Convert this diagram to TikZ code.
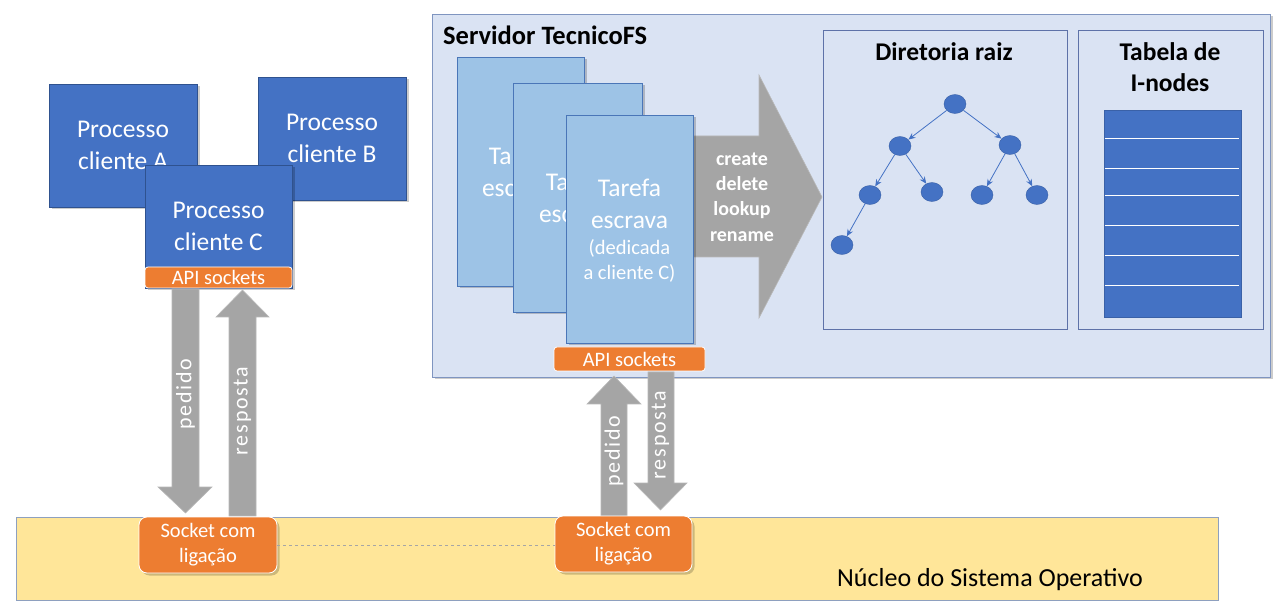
\documentclass[tikz,border=0pt]{standalone}
\usepackage{fontspec}
\setmainfont{Carlito}
\newfontfamily\spacedfont[LetterSpace=8]{Carlito}
\usetikzlibrary{shadows,shapes.geometric,arrows.meta}
\definecolor{procblue}{HTML}{4472C4}
\definecolor{procborder}{HTML}{2F528F}
\definecolor{tarefafill}{HTML}{9DC3E6}
\definecolor{tarefaborder}{HTML}{4A76B8}
\definecolor{serverfill}{HTML}{DAE3F3}
\definecolor{serverborder}{HTML}{7F95C0}
\definecolor{panelborder}{HTML}{5E72A8}
\definecolor{apiorange}{HTML}{ED7D31}
\definecolor{arrowgray}{HTML}{A5A5A5}
\definecolor{arrowborder}{HTML}{B8B8B8}
\definecolor{nucleofill}{HTML}{FFE699}
\definecolor{nucleoborder}{HTML}{8EA0BF}
\newcommand\fsz[2]{\fontsize{#1}{#2}\selectfont}
\begin{document}
\begin{tikzpicture}[x=1pt,y=-1pt,
  softshadow/.style={drop shadow={shadow xshift=2.5pt,shadow yshift=-2.5pt,opacity=0.2,fill=black}},
  procbox/.style={draw=procborder,fill=procblue,line width=0.8pt,text=white,align=center,
    font=\fsz{25.5}{32},inner sep=0pt,softshadow},
  tarefabox/.style={draw=tarefaborder,fill=tarefafill,line width=0.8pt,softshadow},
  tarefatext/.style={text=white,align=center,font=\fsz{25.5}{32},inner sep=0pt},
  tarefasmall/.style={text=white,align=center,font=\fsz{20.5}{25},inner sep=0pt},
  apibar/.style={draw=white,fill=apiorange,line width=0.8pt,rounded corners=3pt,text=white,
    font=\fsz{20.5}{22},inner sep=0pt},
  socketbox/.style={draw=white,fill=apiorange,line width=0.8pt,rounded corners=8pt,text=white,
    font=\fsz{20.5}{25},align=center,inner sep=0pt,softshadow},
  panel/.style={draw=panelborder,fill=serverfill,line width=0.8pt},
  paneltitle/.style={font=\bfseries\fsz{25.5}{31},align=center,inner sep=0pt},
  bigarrow/.style={fill=arrowgray,draw=arrowborder,line width=0.6pt},
  arrowlabel/.style={text=white,font=\spacedfont\fsz{22}{26},rotate=90,inner sep=0pt},
  treenode/.style={ellipse,fill=procblue,draw=procblue!85!black,line width=0.4pt,
    minimum width=22pt,minimum height=19pt,inner sep=0pt},
  treeedge/.style={draw=procblue,line width=0.8pt,-{Stealth[length=7pt,width=6pt]}}
]
\useasboundingbox (0,0) rectangle (1286,612);
\fill[white] (0,0) rectangle (1286,612);

% ---------- kernel band ----------
\node[draw=nucleoborder,fill=nucleofill,line width=0.8pt,minimum width=1202pt,minimum height=83pt,inner sep=0pt]
  (nucleo) at (617,558.5) {};
\node[font=\fsz{26}{31},inner sep=0pt] (nucleotext) at (990,580) {Núcleo do Sistema Operativo};

% ---------- client processes ----------
\node[procbox,minimum width=148pt,minimum height=123pt] (procA) at (123,145.5) {Processo\\cliente A};
\node[procbox,minimum width=148pt,minimum height=123pt] (procB) at (332,138.5) {Processo\\cliente B};
\node[procbox,minimum width=147pt,minimum height=123pt] (procC) at (218.5,226.5) {Processo\\cliente C};
\node[apibar,minimum width=147pt,minimum height=21pt] (apiC) at (218.5,277.5) {API sockets};

% ---------- server ----------
\node[draw=serverborder,fill=serverfill,line width=0.9pt,minimum width=838pt,minimum height=363pt,
  inner sep=0pt,softshadow] (server) at (851,195.5) {};
\node[font=\bfseries\fsz{26.5}{31},anchor=west,inner sep=0pt] (servertitle) at (443,35) {Servidor TecnicoFS};

% big arrow with operations
\draw[bigarrow] (690,136) -- (759,136) -- (759,75) -- (822,197) -- (759,318) -- (759,257) -- (690,257) -- cycle;
\node[text=white,font=\bfseries\fsz{20}{25.3},align=center,inner sep=0pt] (ops) at (742,197)
  {create\\delete\\lookup\\rename};

% worker threads
\node[tarefabox,minimum width=127pt,minimum height=229pt,inner sep=0pt] (tar1) at (520.5,171.5) {};
\node[tarefatext] (tar1text) at (520.5,171.5) {Tarefa\\escrava};
\node[tarefabox,minimum width=129pt,minimum height=229pt,inner sep=0pt] (tar2) at (577.5,197.5) {};
\node[tarefatext] (tar2text) at (577.5,197.5) {Tarefa\\escrava};
\node[tarefabox,minimum width=127pt,minimum height=228pt,inner sep=0pt] (tar3) at (629.5,229) {};
\node[tarefatext] (tar3a) at (629.5,204) {Tarefa\\escrava};
\node[tarefasmall] (tar3b) at (629.5,260.5) {(dedicada\\a cliente C)};
\node[apibar,minimum width=151pt,minimum height=24pt] (apiS) at (629.5,359) {API sockets};

% root directory panel
\node[panel,minimum width=244pt,minimum height=299pt,inner sep=0pt] (dirpanel) at (945,179.5) {};
\node[paneltitle] (dirtitle) at (944,52) {Diretoria raiz};
\node[treenode] (t0) at (955,104) {};
\node[treenode] (t1) at (900,146) {};
\node[treenode] (t2) at (1010,145) {};
\node[treenode] (t3) at (870,195) {};
\node[treenode] (t4) at (932,192) {};
\node[treenode] (t5) at (982,195) {};
\node[treenode] (t6) at (1037,195) {};
\node[treenode] (t7) at (842,245) {};
\draw[treeedge] (t0) -- (t1);
\draw[treeedge] (t0) -- (t2);
\draw[treeedge] (t1) -- (t3);
\draw[treeedge] (t1) -- (t4);
\draw[treeedge] (t2) -- (t5);
\draw[treeedge] (t2) -- (t6);
\draw[treeedge] (t3) -- (t7);

% i-node table panel
\node[panel,minimum width=185pt,minimum height=299pt,inner sep=0pt] (tabpanel) at (1170.5,179.5) {};
\node[paneltitle] (tabtitle) at (1170,67.5) {Tabela de\\I-nodes};
\node[fill=procblue,draw=procblue!85!black,line width=0.4pt,minimum width=137pt,minimum height=207pt,inner sep=0pt]
  (table) at (1172.5,213.5) {};
\foreach \yy in {139,169,196,226,256,286}
  \draw[white,line width=1pt] (1104.5,\yy) -- (1239,\yy);

% ---------- communication arrows ----------
\draw[bigarrow] (172,289) -- (199,289) -- (199,487) -- (212,487) -- (185.5,513) -- (158,487) -- (172,487) -- cycle;
\node[arrowlabel] (ped1) at (185.5,394) {pedido};
\draw[bigarrow] (229,516) -- (256,516) -- (256,317) -- (269,317) -- (242.5,290) -- (216,317) -- (229,317) -- cycle;
\node[arrowlabel] (res1) at (242.5,411) {resposta};
\draw[bigarrow] (601,516) -- (627,516) -- (627,404) -- (641,404) -- (614,376) -- (587,404) -- (601,404) -- cycle;
\node[arrowlabel] (ped2) at (614,451) {pedido};
\draw[bigarrow] (648,372) -- (674,372) -- (674,483) -- (687,483) -- (660.5,510) -- (634,483) -- (648,483) -- cycle;
\node[arrowlabel] (res2) at (660.5,435) {resposta};

% ---------- sockets ----------
\node[socketbox,minimum width=138pt,minimum height=56pt] (sockL) at (208,545) {Socket com\\ligação};
\node[socketbox,minimum width=137pt,minimum height=56pt] (sockR) at (623.5,544) {Socket com\\ligação};
\draw[gray!70,dashed,line width=0.8pt] (sockL.east) -- (sockR.west |- sockL.east);
\end{tikzpicture}
\end{document}
